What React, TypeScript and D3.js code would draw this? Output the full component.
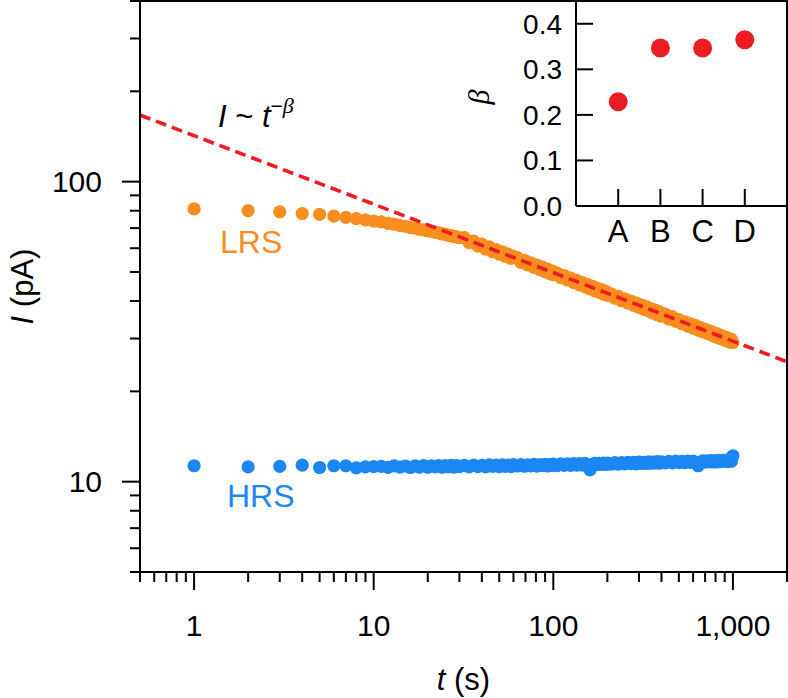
import React from "react";
import * as d3 from "d3";

// ---- data ----
const times = [
  1, 2, 3, 4, 5, 6, 7, 8, 9, 10,
  11, 12, 13, 14, 15, 16, 17, 18, 19, 20,
  21, 22, 23, 24, 25, 26, 27, 28, 29, 30,
  32, 34, 36, 38, 40, 42, 44, 46, 48, 50, 52, 54, 56, 58, 60,
  63, 66, 69, 72, 75, 78, 81, 84, 87, 90, 93, 96, 99,
  100, 105, 110, 115, 120, 125, 130, 135, 140, 145, 150, 155, 160, 165, 170, 175, 180, 185, 190, 195, 200,
  210, 220, 230, 240, 250, 260, 270, 280, 290, 300, 310, 320, 330, 340, 350, 360, 370, 380, 390, 400,
  420, 440, 460, 480, 500, 520, 540, 560, 580, 600, 620, 640, 660, 680, 700, 720, 740, 760, 780, 800,
  820, 840, 860, 880, 900, 920, 940, 960, 980, 1000,
];

const lrsCurrent = [
  81.1, 80.1, 79.3, 78.3, 77.8, 76.8, 76.0, 75.3, 74.6, 73.9,
  73.4, 72.6, 72.2, 71.4, 71.0, 70.3, 70.0, 69.4, 69.1, 68.6,
  68.3, 67.8, 67.5, 67.0, 66.8, 66.2, 66.1, 65.6, 65.5, 65.0,
  65.1, 62.6, 63.4, 61.0, 61.9, 59.6, 60.6, 58.4, 59.4, 57.3, 58.3, 56.4, 57.3, 55.5, 56.4,
  55.8, 53.8, 54.7, 52.8, 53.6, 51.8, 52.7, 50.9, 51.9, 50.1, 51.1, 49.4, 50.3,
  49.0, 49.6, 47.9, 48.6, 47.0, 47.7, 46.1, 46.9, 45.3, 46.1, 44.6, 45.5, 43.9, 44.8, 43.3, 44.2, 42.8, 43.7, 42.2, 43.2, 41.8,
  42.3, 40.9, 41.5, 40.1, 40.7, 39.4, 40.0, 38.7, 39.4, 38.1, 38.8, 37.5, 38.3, 37.0, 37.7, 36.5, 37.3, 36.0, 36.8, 35.6,
  36.2, 34.8, 35.5, 34.2, 34.7, 33.6, 34.1, 33.0, 33.6, 32.5, 33.1, 32.0, 32.6, 31.6, 32.2, 31.2, 31.8, 30.8, 31.4, 30.4,
  31.1, 30.1, 30.7, 29.8, 30.4, 29.5, 30.1, 29.2, 29.8, 29.1,
];

const hrsCurrent = [
  11.30, 11.20, 11.25, 11.35, 11.15, 11.30, 11.30, 11.12, 11.20, 11.22,
  11.25, 11.16, 11.29, 11.18, 11.28, 11.15, 11.29, 11.19, 11.31, 11.17,
  11.30, 11.20, 11.32, 11.17, 11.31, 11.21, 11.34, 11.19, 11.32, 11.22,
  11.34, 11.20, 11.36, 11.23, 11.33, 11.21, 11.37, 11.24, 11.35, 11.22, 11.38, 11.25, 11.36, 11.23, 11.39,
  11.28, 11.40, 11.26, 11.38, 11.29, 11.42, 11.27, 11.39, 11.31, 11.43, 11.28, 11.41, 11.32,
  11.44, 11.31, 11.46, 11.34, 11.47, 11.33, 11.49, 11.36, 11.48, 11.35, 11.50, 11.38, 10.95, 11.39, 11.52, 11.40, 11.51, 11.42, 11.54, 11.41, 11.53,
  11.43, 11.57, 11.45, 11.58, 11.46, 11.60, 11.48, 11.59, 11.47, 11.62, 11.50, 11.61, 11.51, 11.64, 11.52, 11.63, 11.54, 11.66, 11.53, 11.65,
  11.56, 11.68, 11.55, 11.70, 11.58, 11.69, 11.57, 11.72, 11.60, 11.71, 11.59, 11.30, 11.61, 11.74, 11.62, 11.73, 11.64, 11.76, 11.63, 11.75,
  11.65, 11.78, 11.66, 11.77, 11.68, 11.80, 11.67, 11.79, 11.70, 12.20,
];

// power-law fit line I ~ t^-beta (endpoints)
const fitTime = [0.5, 2000];
const fitCurrent = [166.7, 25.1];

// inset
const insetCategories = ["A", "B", "C", "D"];
const insetBeta = [0.229, 0.347, 0.347, 0.365];
const insetYTicks = [0.0, 0.1, 0.2, 0.3, 0.4];

const xMajorTicks = [1, 10, 100, 1000];
const yMajorTicks = [10, 100];

const ORANGE = "#F98D1E";
const BLUE = "#1A87F2";
const RED = "#EC1C24";
const SANS = "'Liberation Sans', Arial, Helvetica, sans-serif";
const SERIF = "'Liberation Serif', 'DejaVu Serif', serif";

export default function App() {
  const W = 788;
  const H = 698;
  const L = 140, R = 787, T = 1, B = 572;

  const x = d3.scaleLog().domain([0.5, 2000]).range([L, R]);
  const y = d3.scaleLog().domain([5, 400]).range([B, T]);

  const xTicksAll = x.ticks();
  const yTicksAll = y.ticks();
  const isMajor = (v: number, arr: number[]) => arr.some((m) => Math.abs(m - v) / m < 1e-6);

  const fmt = d3.format(",");

  const line = d3
    .line<number>()
    .x((_, i) => x(fitTime[i]))
    .y((d) => y(d));

  // inset
  const IL = 576, IB = 206;
  const ix = d3.scalePoint<string>().domain(insetCategories).range([IL, R]).padding(1);
  const iy = d3.scaleLinear().domain([0, 0.45]).range([IB, T]);

  return (
    <svg
      width={W}
      height={H}
      viewBox={`0 0 ${W} ${H}`}
      style={{ position: "absolute", left: 0, top: 0, background: "#fff" }}
      fontFamily={SANS}
    >
      <rect x={0} y={0} width={W} height={H} fill="#fff" />

      {/* HRS points */}
      <g fill={BLUE}>
        {times.map((t, i) => (
          <circle key={"h" + i} cx={x(t)} cy={y(hrsCurrent[i])} r={6.6} />
        ))}
      </g>
      {/* LRS points */}
      <g fill={ORANGE}>
        {times.map((t, i) => (
          <circle key={"l" + i} cx={x(t)} cy={y(lrsCurrent[i])} r={6.6} />
        ))}
      </g>

      {/* fit line */}
      <path
        d={line(fitCurrent) || ""}
        fill="none"
        stroke={RED}
        strokeWidth={3.6}
        strokeDasharray="11,6"
      />

      {/* inset */}
      <rect x={IL} y={T} width={R - IL} height={IB - T} fill="#fff" />
      <g fill={RED}>
        {insetCategories.map((c, i) => (
          <circle key={c} cx={ix(c)} cy={iy(insetBeta[i])} r={9.5} />
        ))}
      </g>
      <g stroke="#000" strokeWidth={2}>
        <line x1={IL} x2={IL} y1={T} y2={IB} />
        <line x1={IL} x2={R} y1={IB} y2={IB} />
        {insetYTicks.slice(1).map((v) => (
          <line key={v} x1={IL} x2={IL + 17} y1={iy(v)} y2={iy(v)} />
        ))}
        {insetCategories.map((c) => (
          <line key={c} x1={ix(c)} x2={ix(c)} y1={IB} y2={IB - 17} />
        ))}
      </g>
      <g fontSize={28} textAnchor="end" fill="#000">
        {insetYTicks.map((v) => (
          <text key={v} x={IL - 14} y={iy(v)} dy="0.35em">
            {d3.format(".1f")(v)}
          </text>
        ))}
      </g>
      <g fontSize={31} textAnchor="middle" fill="#000">
        {insetCategories.map((c) => (
          <text key={c} x={ix(c)} y={242}>
            {c}
          </text>
        ))}
      </g>
      <text
        transform="translate(489,97) rotate(-90)"
        textAnchor="middle"
        fontFamily={SERIF}
        fontStyle="italic"
        fontSize={30}
      >
        β
      </text>

      {/* main frame */}
      <g stroke="#000" strokeWidth={2} fill="none">
        <rect x={L} y={T} width={R - L} height={B - T} />
        {xTicksAll.map((v, i) => {
          const major = isMajor(v, xMajorTicks);
          return <line key={"xt" + i} x1={x(v)} x2={x(v)} y1={B} y2={B + (major ? 18 : 10)} />;
        })}
        {yTicksAll.map((v, i) => {
          const major = isMajor(v, yMajorTicks);
          return <line key={"yt" + i} x1={L} x2={L - (major ? 18 : 10)} y1={y(v)} y2={y(v)} />;
        })}
      </g>

      {/* tick labels */}
      <g fontSize={30} fill="#000">
        {xMajorTicks.map((v) => (
          <text key={v} x={x(v)} y={636} textAnchor="middle">
            {fmt(v)}
          </text>
        ))}
        {yMajorTicks.map((v) => (
          <text key={v} x={102} y={y(v)} dy="0.35em" textAnchor="end">
            {fmt(v)}
          </text>
        ))}
      </g>

      {/* axis titles */}
      <text x={(L + R) / 2} y={690} textAnchor="middle" fontSize={31}>
        <tspan fontStyle="italic">t</tspan>
        <tspan> (s)</tspan>
      </text>
      <text transform={`translate(33,${(T + B) / 2}) rotate(-90)`} textAnchor="middle" fontSize={31}>
        <tspan fontStyle="italic">I</tspan>
        <tspan> (pA)</tspan>
      </text>

      {/* annotations */}
      <text x={218} y={127} fontSize={31} fill="#000">
        <tspan fontStyle="italic">I</tspan>
        <tspan> ~ </tspan>
        <tspan fontStyle="italic">t</tspan>
        <tspan dy={-14} fontSize={21}>−</tspan>
        <tspan fontFamily={SERIF} fontStyle="italic" fontSize={22}>β</tspan>
      </text>
      <text x={220} y={253} fontSize={32} fill={ORANGE}>
        LRS
      </text>
      <text x={227} y={507} fontSize={32} fill={BLUE}>
        HRS
      </text>
    </svg>
  );
}
